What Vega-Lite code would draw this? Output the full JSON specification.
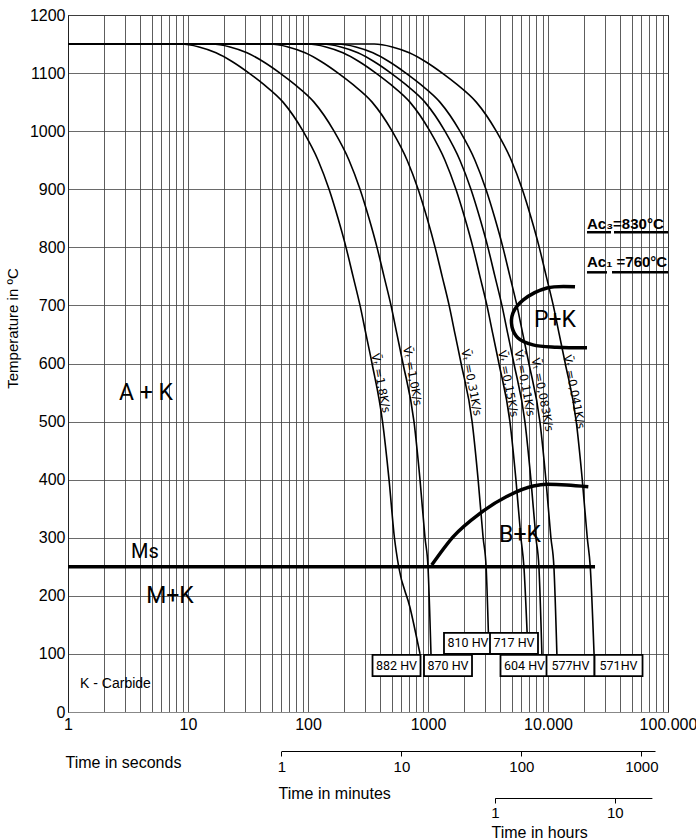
{
  "$schema": "https://vega.github.io/schema/vega-lite/v6.json",
  "width": 600,
  "height": 697,
  "autosize": {"type": "none"},
  "padding": {"left": 68, "top": 15, "right": 28, "bottom": 128},
  "background": "white",
  "config": {"view": {"stroke": "#222", "strokeWidth": 1}, "font": "Liberation Sans"},
  "datasets": {
    "curves": [
      {"curve":"c1","time":1,"temp":1150},{"curve":"c1","time":8.75,"temp":1150},{"curve":"c1","time":12.36,"temp":1145},{"curve":"c1","time":17.12,"temp":1135},{"curve":"c1","time":23.28,"temp":1120},{"curve":"c1","time":32.25,"temp":1100},{"curve":"c1","time":43.02,"temp":1080},{"curve":"c1","time":61.93,"temp":1050},{"curve":"c1","time":90.97,"temp":1000},{"curve":"c1","time":121.3,"temp":950},{"curve":"c1","time":149.8,"temp":900},{"curve":"c1","time":177.9,"temp":850},{"curve":"c1","time":207.4,"temp":800},{"curve":"c1","time":237.4,"temp":750},{"curve":"c1","time":271.4,"temp":700},{"curve":"c1","time":304.5,"temp":650},{"curve":"c1","time":341.7,"temp":600},{"curve":"c1","time":418,"temp":500},{"curve":"c1","time":473.4,"temp":400},{"curve":"c1","time":525,"temp":300},{"curve":"c1","time":570,"temp":250},{"curve":"c1","time":708,"temp":180},{"curve":"c1","time":858,"temp":100},
      {"curve":"c2","time":1,"temp":1150},{"curve":"c2","time":15.85,"temp":1150},{"curve":"c2","time":22.39,"temp":1145},{"curve":"c2","time":31.02,"temp":1135},{"curve":"c2","time":42.17,"temp":1120},{"curve":"c2","time":58.43,"temp":1100},{"curve":"c2","time":77.93,"temp":1080},{"curve":"c2","time":112.2,"temp":1050},{"curve":"c2","time":164.8,"temp":1000},{"curve":"c2","time":219.7,"temp":950},{"curve":"c2","time":271.3,"temp":900},{"curve":"c2","time":322.3,"temp":850},{"curve":"c2","time":375.8,"temp":800},{"curve":"c2","time":430,"temp":750},{"curve":"c2","time":491.7,"temp":700},{"curve":"c2","time":551.6,"temp":650},{"curve":"c2","time":619,"temp":600},{"curve":"c2","time":764.3,"temp":500},{"curve":"c2","time":857.7,"temp":400},{"curve":"c2","time":944.1,"temp":300},{"curve":"c2","time":1000,"temp":250},{"curve":"c2","time":1059,"temp":100},
      {"curve":"c3","time":1,"temp":1150},{"curve":"c3","time":48.3,"temp":1150},{"curve":"c3","time":68.3,"temp":1145},{"curve":"c3","time":94.6,"temp":1135},{"curve":"c3","time":128.6,"temp":1120},{"curve":"c3","time":178.2,"temp":1100},{"curve":"c3","time":237.7,"temp":1080},{"curve":"c3","time":342.2,"temp":1050},{"curve":"c3","time":502.6,"temp":1000},{"curve":"c3","time":670.1,"temp":950},{"curve":"c3","time":827.5,"temp":900},{"curve":"c3","time":983,"temp":850},{"curve":"c3","time":1146,"temp":800},{"curve":"c3","time":1312,"temp":750},{"curve":"c3","time":1500,"temp":700},{"curve":"c3","time":1682,"temp":650},{"curve":"c3","time":1888,"temp":600},{"curve":"c3","time":2331,"temp":500},{"curve":"c3","time":2616,"temp":400},{"curve":"c3","time":2880,"temp":300},{"curve":"c3","time":3050,"temp":250},{"curve":"c3","time":3187,"temp":136},
      {"curve":"c4","time":1,"temp":1150},{"curve":"c4","time":99.9,"temp":1150},{"curve":"c4","time":141.1,"temp":1145},{"curve":"c4","time":195.4,"temp":1135},{"curve":"c4","time":265.7,"temp":1120},{"curve":"c4","time":368.1,"temp":1100},{"curve":"c4","time":491,"temp":1080},{"curve":"c4","time":706.9,"temp":1050},{"curve":"c4","time":1038,"temp":1000},{"curve":"c4","time":1384,"temp":950},{"curve":"c4","time":1709,"temp":900},{"curve":"c4","time":2030,"temp":850},{"curve":"c4","time":2368,"temp":800},{"curve":"c4","time":2709,"temp":750},{"curve":"c4","time":3098,"temp":700},{"curve":"c4","time":3475,"temp":650},{"curve":"c4","time":3900,"temp":600},{"curve":"c4","time":4815,"temp":500},{"curve":"c4","time":5404,"temp":400},{"curve":"c4","time":5948,"temp":300},{"curve":"c4","time":6300,"temp":250},{"curve":"c4","time":6700,"temp":136},
      {"curve":"c5","time":1,"temp":1150},{"curve":"c5","time":133.1,"temp":1150},{"curve":"c5","time":188.1,"temp":1145},{"curve":"c5","time":260.6,"temp":1135},{"curve":"c5","time":354.2,"temp":1120},{"curve":"c5","time":490.8,"temp":1100},{"curve":"c5","time":654.6,"temp":1080},{"curve":"c5","time":942.5,"temp":1050},{"curve":"c5","time":1384,"temp":1000},{"curve":"c5","time":1845,"temp":950},{"curve":"c5","time":2279,"temp":900},{"curve":"c5","time":2707,"temp":850},{"curve":"c5","time":3157,"temp":800},{"curve":"c5","time":3612,"temp":750},{"curve":"c5","time":4130,"temp":700},{"curve":"c5","time":4633,"temp":650},{"curve":"c5","time":5200,"temp":600},{"curve":"c5","time":6420,"temp":500},{"curve":"c5","time":7205,"temp":400},{"curve":"c5","time":7930,"temp":300},{"curve":"c5","time":8400,"temp":250},{"curve":"c5","time":8896,"temp":100},
      {"curve":"c6","time":1,"temp":1150},{"curve":"c6","time":177.5,"temp":1150},{"curve":"c6","time":250.8,"temp":1145},{"curve":"c6","time":347.4,"temp":1135},{"curve":"c6","time":472.3,"temp":1120},{"curve":"c6","time":654.4,"temp":1100},{"curve":"c6","time":872.8,"temp":1080},{"curve":"c6","time":1257,"temp":1050},{"curve":"c6","time":1846,"temp":1000},{"curve":"c6","time":2461,"temp":950},{"curve":"c6","time":3039,"temp":900},{"curve":"c6","time":3610,"temp":850},{"curve":"c6","time":4209,"temp":800},{"curve":"c6","time":4816,"temp":750},{"curve":"c6","time":5507,"temp":700},{"curve":"c6","time":6178,"temp":650},{"curve":"c6","time":6933,"temp":600},{"curve":"c6","time":8560,"temp":500},{"curve":"c6","time":9606,"temp":400},{"curve":"c6","time":10574,"temp":300},{"curve":"c6","time":11200,"temp":250},{"curve":"c6","time":11861,"temp":100},
      {"curve":"c7","time":1,"temp":1150},{"curve":"c7","time":356.6,"temp":1150},{"curve":"c7","time":503.8,"temp":1145},{"curve":"c7","time":698,"temp":1135},{"curve":"c7","time":948.8,"temp":1120},{"curve":"c7","time":1315,"temp":1100},{"curve":"c7","time":1753,"temp":1080},{"curve":"c7","time":2525,"temp":1050},{"curve":"c7","time":3708,"temp":1000},{"curve":"c7","time":4943,"temp":950},{"curve":"c7","time":6104,"temp":900},{"curve":"c7","time":7252,"temp":850},{"curve":"c7","time":8456,"temp":800},{"curve":"c7","time":9675,"temp":750},{"curve":"c7","time":11063,"temp":700},{"curve":"c7","time":12411,"temp":650},{"curve":"c7","time":13928,"temp":600},{"curve":"c7","time":17197,"temp":500},{"curve":"c7","time":19298,"temp":400},{"curve":"c7","time":21242,"temp":300},{"curve":"c7","time":22500,"temp":250},{"curve":"c7","time":24200,"temp":100}
    ],
    "pearlite": [
      {"seq":1,"time":16790,"temp":732},{"seq":2,"time":9810,"temp":730},{"seq":3,"time":6190,"temp":709},{"seq":4,"time":5110,"temp":687},{"seq":5,"time":5012,"temp":663},{"seq":6,"time":5620,"temp":644},{"seq":7,"time":7500,"temp":632},{"seq":8,"time":11880,"temp":628},{"seq":9,"time":21130,"temp":627}
    ],
    "bainite": [
      {"time":1074,"temp":253},{"time":1625,"temp":302},{"time":2712,"temp":342},{"time":4525,"temp":371},{"time":7550,"temp":389},{"time":9750,"temp":392},{"time":14310,"temp":391},{"time":21670,"temp":388}
    ],
    "ms": [{"time":1,"temp":250},{"time":24650,"temp":250}],
    "hardness": [
      {"label":"882 HV","time":546.5,"temp":80},
      {"label":"870 HV","time":1468,"temp":80},
      {"label":"810 HV","time":2154,"temp":118},
      {"label":"717 HV","time":5208,"temp":118},
      {"label":"604 HV","time":6370,"temp":80},
      {"label":"577HV","time":15400,"temp":80},
      {"label":"571HV","time":38700,"temp":80}
    ],
    "rates": [
      {"text":"V\u0304\u209c =1,8K/s","time":398,"temp":566},
      {"text":"V\u0304\u209c =1,0K/s","time":731,"temp":578},
      {"text":"V\u0304\u209c =0,31K/s","time":2268,"temp":567},
      {"text":"V\u0304\u209c =0,15K/s","time":4580,"temp":565},
      {"text":"V\u0304\u209c =0,11K/s","time":6310,"temp":566},
      {"text":"V\u0304\u209c =0,083K/s","time":8860,"temp":546},
      {"text":"V\u0304\u209c =0,041K/s","time":16250,"temp":551}
    ],
    "regions": [
      {"text":"A + K","time":4.47,"temp":549},
      {"text":"Ms","time":4.38,"temp":276},
      {"text":"M+K","time":7.08,"temp":200},
      {"text":"P+K","time":11430,"temp":675},
      {"text":"B+K","time":5843,"temp":305}
    ],
    "notes": [
      {"text":"K - Carbide","time":1.26,"temp":48}
    ],
    "ac": [
      {"text":"Ac\u2083=830\u00b0C","time":21130,"temp":841},
      {"text":"Ac\u2081 =760\u00b0C","time":21130,"temp":774}
    ],
    "underlines": [
      {"time":21130,"time2":33500,"temp":826},
      {"time":35480,"time2":100000,"temp":826},
      {"time":21130,"time2":31020,"temp":757},
      {"time":34150,"time2":100000,"temp":757}
    ]
  },
  "layer": [
    {
      "encoding": {
        "x": {
          "field": "time", "type": "quantitative",
          "scale": {"type": "log", "domain": [1, 100000], "nice": false},
          "axis": {
            "orient": "bottom",
            "values": [1,2,3,4,5,6,7,8,9,10,20,30,40,50,60,70,80,90,100,200,300,400,500,600,700,800,900,1000,2000,3000,4000,5000,6000,7000,8000,9000,10000,20000,30000,40000,50000,60000,70000,80000,90000,100000],
            "labelExpr": "datum.value == 10000 ? '10.000' : datum.value == 100000 ? '100.000' : (datum.value == 1 || datum.value == 10 || datum.value == 100 || datum.value == 1000) ? '' + datum.value : ''",
            "grid": true, "gridColor": "#333", "gridWidth": 0.8,
            "ticks": false, "tickSize": 0,
            "domainColor": "#888",
            "labelFontSize": 16, "labelColor": "#000", "labelPadding": 4,
            "labelFlush": false, "labelOverlap": false, "labelBound": false,
            "title": "Time in seconds", "titleFontSize": 16, "titleFontWeight": "normal", "titleColor": "#000",
            "titleAnchor": "start", "titleAlign": "left", "titleBaseline": "middle", "titleX": -3, "titleY": 50
          }
        },
        "y": {
          "field": "temp", "type": "quantitative",
          "scale": {"domain": [0, 1200], "nice": false, "zero": false},
          "axis": {
            "values": [0,100,200,300,400,500,600,700,800,900,1000,1100,1200],
            "format": "d",
            "grid": true, "gridColor": "#444", "gridWidth": 0.8,
            "ticks": false, "tickSize": 0, "domainColor": "#222",
            "labelFontSize": 16, "labelColor": "#000", "labelPadding": 3,
            "title": "Temperature in \u00baC", "titleFontSize": 15, "titleFontWeight": "normal", "titleColor": "#000",
            "titleX": -56, "titleY": 313, "titleAlign": "center", "titleBaseline": "middle"
          }
        }
      },
      "layer": [
        {"data": {"name": "curves"}, "mark": {"type": "line", "color": "#000", "strokeWidth": 1.6, "interpolate": "monotone"}, "encoding": {"detail": {"field": "curve"}}},
        {"data": {"name": "ms"}, "mark": {"type": "line", "color": "#000", "strokeWidth": 3.5}, "encoding": {}},
        {"data": {"name": "bainite"}, "mark": {"type": "line", "color": "#000", "strokeWidth": 3.5, "interpolate": "monotone"}, "encoding": {}},
        {"data": {"name": "pearlite"}, "mark": {"type": "line", "color": "#000", "strokeWidth": 3.5, "interpolate": "catmull-rom"}, "encoding": {"order": {"field": "seq"}}},
        {"data": {"name": "underlines"}, "mark": {"type": "rule", "color": "#000", "strokeWidth": 2.5}, "encoding": {"x2": {"field": "time2"}}},
        {"data": {"name": "hardness"}, "mark": {"type": "point", "shape": "M-1,-0.44H1V0.44H-1Z", "size": 2304, "filled": true, "fill": "#fff", "stroke": "#000", "strokeWidth": 1.8, "opacity": 1}, "encoding": {}},
        {"data": {"name": "hardness"}, "mark": {"type": "text", "font": "Roboto", "fontSize": 12.5, "color": "#000", "align": "center", "baseline": "middle"}, "encoding": {"text": {"field": "label"}}},
        {"data": {"name": "rates"}, "mark": {"type": "text", "font": "DejaVu Sans", "fontSize": 11.5, "color": "#000", "angle": 79, "align": "center", "baseline": "middle"}, "encoding": {"text": {"field": "text"}}},
        {"data": {"name": "regions"}, "mark": {"type": "text", "font": "Roboto", "color": "#000", "align": "center", "baseline": "middle"}, "encoding": {"text": {"field": "text"}, "size": {"condition": {"test": "datum.text == 'Ms'", "value": 20}, "value": 23}}},
        {"data": {"name": "notes"}, "mark": {"type": "text", "font": "Liberation Sans", "fontSize": 14, "color": "#000", "align": "left", "baseline": "middle"}, "encoding": {"text": {"field": "text"}}},
        {"data": {"name": "ac"}, "mark": {"type": "text", "font": "Liberation Sans", "fontWeight": "bold", "fontSize": 15, "color": "#000", "align": "left", "baseline": "middle"}, "encoding": {"text": {"field": "text"}}}
      ]
    },
    {
      "data": {"values": [{"minutes": 1}, {"minutes": 1300}]},
      "mark": {"type": "point", "opacity": 0},
      "encoding": {
        "x": {
          "field": "minutes", "type": "quantitative",
          "scale": {"type": "log", "domain": [1, 1300], "range": [213.4, 587.0], "nice": false},
          "axis": {
            "orient": "bottom", "offset": 39, "values": [1, 10, 100, 1000], "format": "d",
            "grid": false, "ticks": true, "tickSize": 5, "tickColor": "#000", "domainColor": "#000",
            "labelFontSize": 15, "labelColor": "#000", "labelPadding": 3, "labelFlush": false, "labelOverlap": false,
            "title": "Time in minutes", "titleFontSize": 16, "titleFontWeight": "normal", "titleColor": "#000",
            "titleAnchor": "start", "titleAlign": "left", "titleBaseline": "middle", "titleX": 210, "titleY": 42
          }
        }
      }
    },
    {
      "data": {"values": [{"hours": 1}, {"hours": 20.4}]},
      "mark": {"type": "point", "opacity": 0},
      "encoding": {
        "x": {
          "field": "hours", "type": "quantitative",
          "scale": {"type": "log", "domain": [1, 20.4], "range": [426.8, 583.9], "nice": false},
          "axis": {
            "orient": "bottom", "offset": 86, "values": [1, 10], "format": "d",
            "grid": false, "ticks": true, "tickSize": 5, "tickColor": "#000", "domainColor": "#000",
            "labelFontSize": 15, "labelColor": "#000", "labelPadding": 2, "labelFlush": false, "labelOverlap": false,
            "title": "Time in hours", "titleFontSize": 16, "titleFontWeight": "normal", "titleColor": "#000",
            "titleAnchor": "start", "titleAlign": "left", "titleBaseline": "middle", "titleX": 423, "titleY": 34
          }
        }
      }
    }
  ],
  "resolve": {"scale": {"x": "independent"}, "axis": {"x": "independent"}}
}
